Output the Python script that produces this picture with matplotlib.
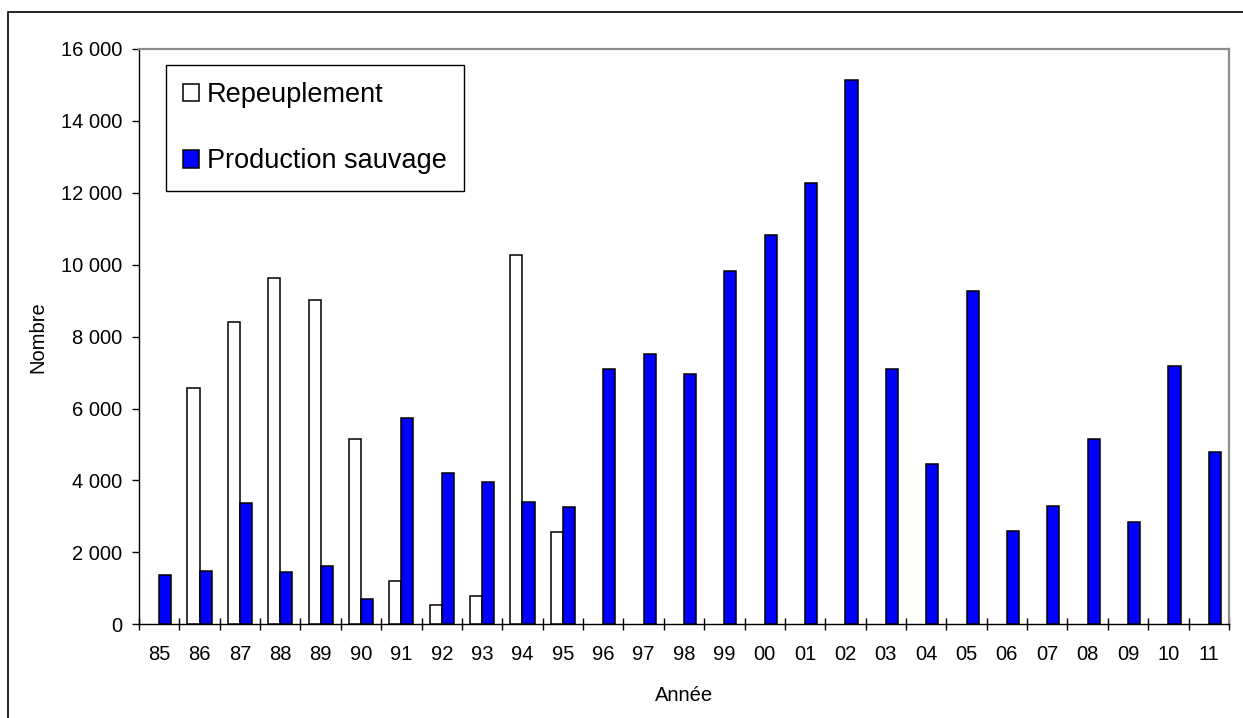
import numpy as np
import matplotlib
matplotlib.use("Agg")
import matplotlib.pyplot as plt
from matplotlib.patches import Rectangle
from matplotlib.ticker import FuncFormatter, FixedLocator

plt.rcParams['font.family'] = ['Liberation Sans', 'DejaVu Sans']

# Données
annees = ["85", "86", "87", "88", "89", "90", "91", "92", "93", "94", "95", "96", "97", "98",
          "99", "00", "01", "02", "03", "04", "05", "06", "07", "08", "09", "10", "11"]
repeuplement = [0, 6580, 8400, 9620, 9020, 5160, 1200, 545, 778, 10270, 2565,
                0, 0, 0, 0, 0, 0, 0, 0, 0, 0, 0, 0, 0, 0, 0, 0]
production_sauvage = [1360, 1490, 3380, 1450, 1630, 700, 5750, 4200, 3945, 3400, 3260,
                      7110, 7515, 6960, 9820, 10840, 12280, 15140, 7090, 4470, 9260,
                      2590, 3285, 5140, 2835, 7175, 4780]

fig = plt.figure(figsize=(12.43, 7.18), dpi=100)
ax = fig.add_axes([0.1118, 0.1305, 0.8769, 0.8013])

x = np.arange(len(annees))
w = 0.3
# Excel ne dessine rien pour les valeurs nulles
rep = np.array(repeuplement, dtype=float)
ok = rep > 0
ax.bar(x[ok] - w / 2, rep[ok], w, color="white", edgecolor="black", linewidth=1.1,
       label="Repeuplement", zorder=3)
ax.bar(x + w / 2, production_sauvage, w, color="#0000ff", edgecolor="black", linewidth=1.1,
       label="Production sauvage", zorder=3)

ax.set_xlim(-0.5, len(annees) - 0.5)
ax.set_ylim(0, 16000)
ax.set_yticks(np.arange(0, 16001, 2000))
ax.yaxis.set_major_formatter(FuncFormatter(lambda v, p: f"{int(v):,}".replace(",", " ")))

# ticks entre les catégories, étiquettes au centre
ax.xaxis.set_major_locator(FixedLocator(np.arange(-0.5, len(annees), 1.0)))
ax.xaxis.set_minor_locator(FixedLocator(x))
ax.set_xticklabels([], minor=False)
ax.set_xticklabels(annees, minor=True)
ax.tick_params(axis="x", which="major", direction="inout", length=9, width=1, color="black")
ax.tick_params(axis="x", which="minor", length=0, pad=15, labelsize=14.5)
ax.tick_params(axis="y", direction="out", length=5, width=1, pad=7, labelsize=14.5)

for s in ["top", "right"]:
    ax.spines[s].set_color("#8c8c8c")
    ax.spines[s].set_linewidth(1.6)
for s in ["left", "bottom"]:
    ax.spines[s].set_color("black")
    ax.spines[s].set_linewidth(1.0)

ax.set_xlabel("Année", fontsize=14.5, labelpad=16)
ax.set_ylabel("Nombre", fontsize=14.5, labelpad=10)

leg = ax.legend(loc="upper left", bbox_to_anchor=(0.0248, 0.972), borderaxespad=0,
                fontsize=19.5, fancybox=False, edgecolor="black", framealpha=1,
                handlelength=0.6, handleheight=0.6, handletextpad=0.3,
                labelspacing=1.5, borderpad=0.62)
leg.get_frame().set_linewidth(1.0)

# cadre extérieur
fig.patches.append(Rectangle((8 / 1243, -0.1), 1.2, 0.1 + 1 - 12 / 718, transform=fig.transFigure,
                             fill=False, edgecolor="black", linewidth=1.2, clip_on=False))

fig.savefig("out.png", dpi=100)
